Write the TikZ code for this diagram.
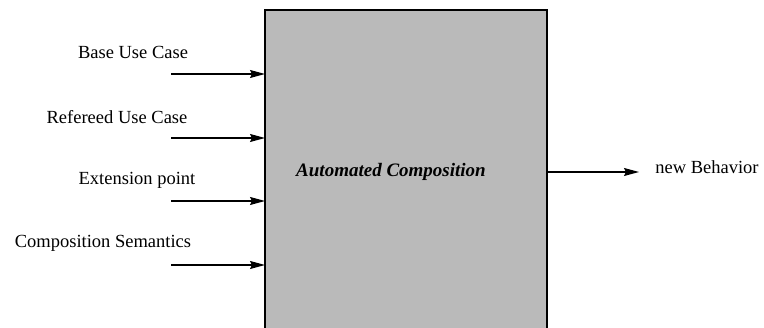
\documentclass[tikz,border=0pt]{standalone}
\usepackage{fontspec}
\setmainfont{Liberation Serif}
\usetikzlibrary{arrows.meta}
\begin{document}
\begin{tikzpicture}[x=1pt,y=-1pt,
  lbl/.style={font=\fontsize{18.5}{22}\selectfont, inner sep=0pt},
  inarrow/.style={draw=black, line width=1.1pt, -{Stealth[length=15pt,width=8pt,inset=2pt]}},
  boxline/.style={draw=black, line width=1.2pt}]
\useasboundingbox (0,0) rectangle (764,328);
\fill[black!27] (265,10) rectangle (547,328);
\coordinate (tl) at (265,10);
\coordinate (tr) at (547,10);
\coordinate (bl) at (265,328);
\coordinate (br) at (547,328);
\draw[boxline] (bl) -- (tl) -- (tr) -- (br);
\node[lbl, font=\fontsize{19}{22}\selectfont\bfseries\itshape] (ac) at (391,172) {Automated Composition};
% inputs
\node[lbl] (l1) at (133,52) {Base Use Case};
\node[lbl] (l2) at (117,117) {Refereed Use Case};
\node[lbl] (l3) at (137,180) {Extension point};
\node[lbl] (l4) at (103,243) {Composition Semantics};
\coordinate (s1) at (171,74);  \coordinate (e1) at (265,74);
\coordinate (s2) at (171,138); \coordinate (e2) at (265,138);
\coordinate (s3) at (171,201); \coordinate (e3) at (265,201);
\coordinate (s4) at (171,265); \coordinate (e4) at (265,265);
\draw[inarrow] (s1) -- (e1);
\draw[inarrow] (s2) -- (e2);
\draw[inarrow] (s3) -- (e3);
\draw[inarrow] (s4) -- (e4);
% output
\coordinate (os) at (547,172);
\coordinate (oe) at (639,172);
\draw[inarrow] (os) -- (oe);
\node[lbl] (nb) at (707,167) {new Behavior};
\end{tikzpicture}
\end{document}
